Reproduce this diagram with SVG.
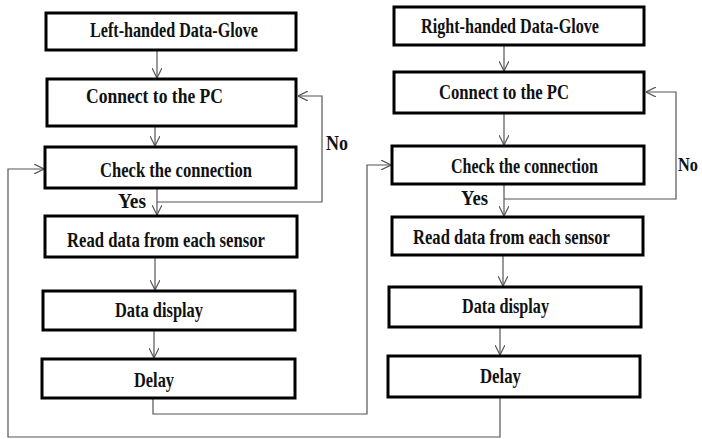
<svg xmlns="http://www.w3.org/2000/svg" width="702" height="439" viewBox="0 0 702 439">
<style>
.box{fill:#fff;stroke:#000;stroke-width:3}
.t{font-family:"Liberation Serif","Times New Roman",serif;font-weight:bold;font-size:21px;fill:#111}
.c{fill:none;stroke:#555;stroke-width:1.2}
</style>
<defs>
<marker id="ah" viewBox="0 0 10 10" refX="10" refY="5" markerWidth="10" markerHeight="10" markerUnits="userSpaceOnUse" orient="auto">
<path d="M0,0 L10,5 L0,10" fill="none" stroke="#555" stroke-width="1.2"/>
</marker>
</defs>
<rect width="702" height="439" fill="#fff"/>
<g id="connectors">
<line class="c" x1="157" y1="50" x2="157" y2="78" marker-end="url(#ah)"/>
<line class="c" x1="155" y1="126" x2="155" y2="146" marker-end="url(#ah)"/>
<line class="c" x1="157" y1="188" x2="157" y2="215" marker-end="url(#ah)"/>
<polyline class="c" points="157,202 322,202 322,96 298,96" marker-end="url(#ah)"/>
<line class="c" x1="155" y1="257" x2="155" y2="290" marker-end="url(#ah)"/>
<line class="c" x1="154" y1="330" x2="154" y2="358" marker-end="url(#ah)"/>
<polyline class="c" points="153,398 153,414 367,414 367,165 391,165" marker-end="url(#ah)"/>
<line class="c" x1="504" y1="45" x2="504" y2="71" marker-end="url(#ah)"/>
<line class="c" x1="504" y1="113" x2="504" y2="145" marker-end="url(#ah)"/>
<line class="c" x1="504" y1="184" x2="504" y2="216" marker-end="url(#ah)"/>
<polyline class="c" points="504,199 676,199 676,92 646,92" marker-end="url(#ah)"/>
<line class="c" x1="503" y1="255" x2="503" y2="286" marker-end="url(#ah)"/>
<line class="c" x1="500" y1="327" x2="500" y2="355" marker-end="url(#ah)"/>
<polyline class="c" points="500,397 500,437 8,437 8,169 44,169" marker-end="url(#ah)"/>
</g>
<g id="labels">
<text class="t" x="118" y="208" textLength="28" lengthAdjust="spacingAndGlyphs">Yes</text>
<text class="t" x="326" y="150" textLength="22" lengthAdjust="spacingAndGlyphs">No</text>
<text class="t" x="461" y="205" textLength="27" lengthAdjust="spacingAndGlyphs">Yes</text>
<text class="t" x="678" y="171" style="font-size:19px" textLength="20" lengthAdjust="spacingAndGlyphs">No</text>
</g>
<g id="left-glove"><rect class="box" x="46" y="13" width="250" height="37"/><text class="t" x="90" y="37" textLength="168" lengthAdjust="spacingAndGlyphs">Left-handed Data-Glove</text></g>
<g id="left-connect"><rect class="box" x="47" y="79" width="249" height="47"/><text class="t" x="86" y="103" textLength="137" lengthAdjust="spacingAndGlyphs">Connect to the PC</text></g>
<g id="left-check"><rect class="box" x="45" y="147" width="251" height="41"/><text class="t" x="100" y="177" textLength="152" lengthAdjust="spacingAndGlyphs">Check the connection</text></g>
<g id="left-read"><rect class="box" x="45" y="216" width="252" height="41"/><text class="t" x="67" y="247" textLength="198" lengthAdjust="spacingAndGlyphs">Read data from each sensor</text></g>
<g id="left-display"><rect class="box" x="43" y="291" width="252" height="39"/><text class="t" x="115" y="317" textLength="88" lengthAdjust="spacingAndGlyphs">Data display</text></g>
<g id="left-delay"><rect class="box" x="42" y="359" width="253" height="39"/><text class="t" x="134" y="387" textLength="40" lengthAdjust="spacingAndGlyphs">Delay</text></g>
<g id="right-glove"><rect class="box" x="394" y="7" width="250" height="38"/><text class="t" x="421" y="33" textLength="178" lengthAdjust="spacingAndGlyphs">Right-handed Data-Glove</text></g>
<g id="right-connect"><rect class="box" x="394" y="72" width="250" height="41"/><text class="t" x="439" y="99" textLength="130" lengthAdjust="spacingAndGlyphs">Connect to the PC</text></g>
<g id="right-check"><rect class="box" x="392" y="146" width="252" height="38"/><text class="t" x="451" y="173" textLength="147" lengthAdjust="spacingAndGlyphs">Check the connection</text></g>
<g id="right-read"><rect class="box" x="392" y="217" width="251" height="38"/><text class="t" x="413" y="244" textLength="197" lengthAdjust="spacingAndGlyphs">Read data from each sensor</text></g>
<g id="right-display"><rect class="box" x="389" y="287" width="252" height="40"/><text class="t" x="462" y="313" textLength="87" lengthAdjust="spacingAndGlyphs">Data display</text></g>
<g id="right-delay"><rect class="box" x="388" y="356" width="252" height="41"/><text class="t" x="480" y="383" textLength="41" lengthAdjust="spacingAndGlyphs">Delay</text></g>
</svg>
